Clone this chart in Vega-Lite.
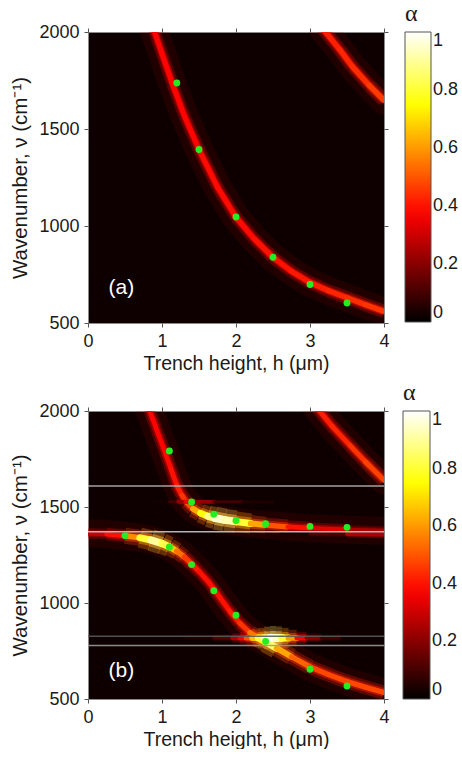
{
  "$schema": "https://vega.github.io/schema/vega-lite/v6.json",
  "padding": {"left": 10, "top": 1, "right": 0, "bottom": 0},
  "config": {
    "font": "Liberation Sans",
    "view": {"stroke": "#8a8a8a", "strokeWidth": 1, "fill": "#0e0000"},
    "axis": {"labelFontSize": 18, "titleFontSize": 19.5, "labelColor": "#1a1a1a", "titleColor": "#1a1a1a", "titleFontWeight": "normal", "domain": false, "grid": false, "tickColor": "#555555", "tickSize": 4, "labelPadding": 5, "labelFlush": false}
  },
  "datasets": {
    "curves": [
      {"p": "a", "c": "a1", "h": 0.85, "v": 2060, "a": 0.38},
      {"p": "a", "c": "a1", "h": 0.90, "v": 2000, "a": 0.38},
      {"p": "a", "c": "a1", "h": 1.00, "v": 1889, "a": 0.38},
      {"p": "a", "c": "a1", "h": 1.137, "v": 1737, "a": 0.38},
      {"p": "a", "c": "a1", "h": 1.30, "v": 1570, "a": 0.38},
      {"p": "a", "c": "a1", "h": 1.50, "v": 1394, "a": 0.39},
      {"p": "a", "c": "a1", "h": 1.75, "v": 1200, "a": 0.39},
      {"p": "a", "c": "a1", "h": 2.00, "v": 1045, "a": 0.39},
      {"p": "a", "c": "a1", "h": 2.25, "v": 932, "a": 0.40},
      {"p": "a", "c": "a1", "h": 2.50, "v": 838, "a": 0.40},
      {"p": "a", "c": "a1", "h": 2.75, "v": 766, "a": 0.41},
      {"p": "a", "c": "a1", "h": 3.00, "v": 709, "a": 0.42},
      {"p": "a", "c": "a1", "h": 3.25, "v": 666, "a": 0.43},
      {"p": "a", "c": "a1", "h": 3.50, "v": 630, "a": 0.44},
      {"p": "a", "c": "a1", "h": 3.75, "v": 594, "a": 0.45},
      {"p": "a", "c": "a1", "h": 4.00, "v": 560, "a": 0.46},
      {"p": "a", "c": "a2", "h": 3.10, "v": 2055, "a": 0.42},
      {"p": "a", "c": "a2", "h": 3.21, "v": 2000, "a": 0.42},
      {"p": "a", "c": "a2", "h": 3.40, "v": 1910, "a": 0.43},
      {"p": "a", "c": "a2", "h": 3.57, "v": 1823, "a": 0.44},
      {"p": "a", "c": "a2", "h": 3.80, "v": 1725, "a": 0.46},
      {"p": "a", "c": "a2", "h": 4.00, "v": 1648, "a": 0.48},
      {"p": "b", "c": "b1", "h": 0.80, "v": 2040, "a": 0.38},
      {"p": "b", "c": "b1", "h": 0.835, "v": 2000, "a": 0.38},
      {"p": "b", "c": "b1", "h": 0.95, "v": 1880, "a": 0.38},
      {"p": "b", "c": "b1", "h": 1.04, "v": 1786, "a": 0.39},
      {"p": "b", "c": "b1", "h": 1.12, "v": 1700, "a": 0.40},
      {"p": "b", "c": "b1", "h": 1.20, "v": 1613, "a": 0.42},
      {"p": "b", "c": "b1", "h": 1.27, "v": 1560, "a": 0.45},
      {"p": "b", "c": "b1", "h": 1.33, "v": 1525, "a": 0.50},
      {"p": "b", "c": "b1", "h": 1.42, "v": 1490, "a": 0.62},
      {"p": "b", "c": "b1", "h": 1.52, "v": 1468, "a": 0.76},
      {"p": "b", "c": "b1", "h": 1.62, "v": 1452, "a": 0.88},
      {"p": "b", "c": "b1", "h": 1.72, "v": 1442, "a": 0.95},
      {"p": "b", "c": "b1", "h": 1.85, "v": 1432, "a": 0.92},
      {"p": "b", "c": "b1", "h": 2.00, "v": 1424, "a": 0.80},
      {"p": "b", "c": "b1", "h": 2.20, "v": 1414, "a": 0.62},
      {"p": "b", "c": "b1", "h": 2.40, "v": 1406, "a": 0.50},
      {"p": "b", "c": "b1", "h": 2.70, "v": 1397, "a": 0.40},
      {"p": "b", "c": "b1", "h": 3.00, "v": 1390, "a": 0.33},
      {"p": "b", "c": "b1", "h": 3.50, "v": 1382, "a": 0.25},
      {"p": "b", "c": "b1", "h": 4.00, "v": 1376, "a": 0.22},
      {"p": "b", "c": "b2", "h": 0.00, "v": 1363, "a": 0.30},
      {"p": "b", "c": "b2", "h": 0.25, "v": 1359, "a": 0.40},
      {"p": "b", "c": "b2", "h": 0.50, "v": 1350, "a": 0.58},
      {"p": "b", "c": "b2", "h": 0.70, "v": 1340, "a": 0.80},
      {"p": "b", "c": "b2", "h": 0.85, "v": 1328, "a": 0.90},
      {"p": "b", "c": "b2", "h": 1.00, "v": 1310, "a": 0.82},
      {"p": "b", "c": "b2", "h": 1.10, "v": 1293, "a": 0.66},
      {"p": "b", "c": "b2", "h": 1.20, "v": 1270, "a": 0.54},
      {"p": "b", "c": "b2", "h": 1.30, "v": 1240, "a": 0.46},
      {"p": "b", "c": "b2", "h": 1.40, "v": 1204, "a": 0.42},
      {"p": "b", "c": "b2", "h": 1.50, "v": 1165, "a": 0.40},
      {"p": "b", "c": "b2", "h": 1.64, "v": 1105, "a": 0.40},
      {"p": "b", "c": "b2", "h": 1.78, "v": 1030, "a": 0.40},
      {"p": "b", "c": "b2", "h": 1.91, "v": 960, "a": 0.42},
      {"p": "b", "c": "b2", "h": 2.05, "v": 895, "a": 0.45},
      {"p": "b", "c": "b2", "h": 2.19, "v": 845, "a": 0.55},
      {"p": "b", "c": "b2", "h": 2.30, "v": 818, "a": 0.75},
      {"p": "b", "c": "b2", "h": 2.40, "v": 797, "a": 0.85},
      {"p": "b", "c": "b2", "h": 2.55, "v": 765, "a": 0.62},
      {"p": "b", "c": "b2", "h": 2.75, "v": 720, "a": 0.52},
      {"p": "b", "c": "b2", "h": 3.00, "v": 667, "a": 0.48},
      {"p": "b", "c": "b2", "h": 3.25, "v": 627, "a": 0.48},
      {"p": "b", "c": "b2", "h": 3.50, "v": 591, "a": 0.48},
      {"p": "b", "c": "b2", "h": 3.75, "v": 561, "a": 0.48},
      {"p": "b", "c": "b2", "h": 4.00, "v": 534, "a": 0.48},
      {"p": "b", "c": "b3", "h": 3.05, "v": 2040, "a": 0.42},
      {"p": "b", "c": "b3", "h": 3.13, "v": 2000, "a": 0.42},
      {"p": "b", "c": "b3", "h": 3.30, "v": 1920, "a": 0.43},
      {"p": "b", "c": "b3", "h": 3.54, "v": 1821, "a": 0.45},
      {"p": "b", "c": "b3", "h": 3.75, "v": 1735, "a": 0.47},
      {"p": "b", "c": "b3", "h": 4.00, "v": 1639, "a": 0.50},
      {"p": "b", "c": "b4", "h": 0.90, "v": 1527, "a": 0.03},
      {"p": "b", "c": "b4", "h": 1.10, "v": 1527, "a": 0.10},
      {"p": "b", "c": "b4", "h": 1.22, "v": 1527, "a": 0.22},
      {"p": "b", "c": "b4", "h": 1.32, "v": 1527, "a": 0.36},
      {"p": "b", "c": "b4", "h": 1.45, "v": 1527, "a": 0.22},
      {"p": "b", "c": "b4", "h": 1.70, "v": 1527, "a": 0.10},
      {"p": "b", "c": "b4", "h": 2.10, "v": 1527, "a": 0.05},
      {"p": "b", "c": "b4", "h": 2.50, "v": 1527, "a": 0.02},
      {"p": "b", "c": "b5", "h": 1.30, "v": 818, "a": 0.04},
      {"p": "b", "c": "b5", "h": 1.70, "v": 818, "a": 0.12},
      {"p": "b", "c": "b5", "h": 1.95, "v": 818, "a": 0.26},
      {"p": "b", "c": "b5", "h": 2.05, "v": 818, "a": 0.36},
      {"p": "b", "c": "b5", "h": 2.14, "v": 818, "a": 0.50},
      {"p": "b", "c": "b5", "h": 2.22, "v": 818, "a": 0.66},
      {"p": "b", "c": "b5", "h": 2.30, "v": 818, "a": 0.80},
      {"p": "b", "c": "b5", "h": 2.38, "v": 818, "a": 0.92},
      {"p": "b", "c": "b5", "h": 2.46, "v": 818, "a": 1.00},
      {"p": "b", "c": "b5", "h": 2.54, "v": 818, "a": 0.94},
      {"p": "b", "c": "b5", "h": 2.62, "v": 818, "a": 0.80},
      {"p": "b", "c": "b5", "h": 2.71, "v": 818, "a": 0.60},
      {"p": "b", "c": "b5", "h": 2.82, "v": 818, "a": 0.38},
      {"p": "b", "c": "b5", "h": 2.95, "v": 818, "a": 0.20},
      {"p": "b", "c": "b5", "h": 3.15, "v": 818, "a": 0.09},
      {"p": "b", "c": "b5", "h": 3.40, "v": 818, "a": 0.03},
      {"p": "b", "c": "b6", "h": 2.60, "v": 1362, "a": 0.04},
      {"p": "b", "c": "b6", "h": 3.00, "v": 1361, "a": 0.12},
      {"p": "b", "c": "b6", "h": 3.50, "v": 1359, "a": 0.26},
      {"p": "b", "c": "b6", "h": 4.00, "v": 1356, "a": 0.45}
    ],
    "dots": [
      {"p": "a", "h": 1.2, "v": 1737},
      {"p": "a", "h": 1.5, "v": 1394},
      {"p": "a", "h": 2.0, "v": 1046},
      {"p": "a", "h": 2.5, "v": 839},
      {"p": "a", "h": 3.0, "v": 698},
      {"p": "a", "h": 3.5, "v": 603},
      {"p": "b", "h": 1.1, "v": 1792},
      {"p": "b", "h": 1.4, "v": 1526},
      {"p": "b", "h": 1.7, "v": 1462},
      {"p": "b", "h": 2.0, "v": 1430},
      {"p": "b", "h": 2.4, "v": 1413},
      {"p": "b", "h": 3.0, "v": 1399},
      {"p": "b", "h": 3.5, "v": 1394},
      {"p": "b", "h": 0.5, "v": 1351},
      {"p": "b", "h": 1.1, "v": 1292},
      {"p": "b", "h": 1.4, "v": 1200},
      {"p": "b", "h": 1.7, "v": 1064},
      {"p": "b", "h": 2.0, "v": 936},
      {"p": "b", "h": 2.4, "v": 800},
      {"p": "b", "h": 3.0, "v": 655},
      {"p": "b", "h": 3.5, "v": 568}
    ],
    "hlines": [
      {"v": 1609, "k": "l1"},
      {"v": 1371, "k": "l2"},
      {"v": 827, "k": "l3"},
      {"v": 778, "k": "l4"}
    ]
  },
  "spacing": 7,
  "resolve": {"scale": {"color": "independent"}},
  "vconcat": [
    {
      "width": 296,
      "height": 291,
      "resolve": {"axis": {"x": "independent", "y": "independent"}, "scale": {"strokeWidth": "independent", "stroke": "independent", "size": "independent"}},
      "layer": [
        {
          "data": {"name": "curves"},
          "transform": [{"filter": "datum.c == 'a1' || datum.c == 'a2'"}],
          "mark": {"type": "line", "clip": true, "stroke": "#b00000", "strokeWidth": 28, "strokeOpacity": 0.12, "strokeCap": "round", "strokeJoin": "round"},
          "encoding": {
            "x": {"field": "h", "type": "quantitative", "scale": {"domain": [0, 4], "nice": false, "zero": false}, "axis": {"orient": "bottom", "values": [0, 1, 2, 3, 4], "format": "d", "title": "Trench height, h (μm)", "titlePadding": 4}},
            "y": {"field": "v", "type": "quantitative", "scale": {"domain": [500, 2000], "nice": false, "zero": false}, "axis": {"orient": "left", "values": [500, 1000, 1500, 2000], "format": "d", "title": "Wavenumber, ν (cm⁻¹)", "titleFontSize": 20.5, "titlePadding": 8}},
            "detail": {"field": "c"},
            "order": {"field": "h"}
          }
        },
        {
          "data": {"name": "curves"},
          "transform": [
            {"filter": "datum.p == 'a'"},
            {"window": [{"op": "lead", "field": "h", "as": "h2"}, {"op": "lead", "field": "v", "as": "v2"}], "groupby": ["c"], "sort": [{"field": "h", "order": "ascending"}]},
            {"filter": "datum.h2 != null"}
          ],
          "mark": {"type": "rule", "clip": true, "strokeCap": "butt", "strokeOpacity": 0.3},
          "encoding": {
            "x": {"field": "h", "type": "quantitative", "axis": null},
            "x2": {"field": "h2"},
            "y": {"field": "v", "type": "quantitative", "axis": null},
            "y2": {"field": "v2"},
            "strokeWidth": {"field": "a", "type": "quantitative", "scale": {"domain": [0, 1], "range": [5, 24]}, "legend": null},
            "stroke": {"field": "a", "type": "quantitative", "scale": {"type": "linear", "domain": [0, 0.4, 0.8, 1], "range": ["#000000", "#ee0000", "#ff9000", "#ffe060"], "interpolate": "rgb"}, "legend": null}
          }
        },
        {
          "data": {"name": "curves"},
          "transform": [
            {"filter": "datum.p == 'a'"},
            {"window": [{"op": "lead", "field": "h", "as": "h2"}, {"op": "lead", "field": "v", "as": "v2"}], "groupby": ["c"], "sort": [{"field": "h", "order": "ascending"}]},
            {"filter": "datum.h2 != null"}
          ],
          "mark": {"type": "rule", "clip": true, "strokeCap": "butt", "strokeOpacity": 0.5},
          "encoding": {
            "x": {"field": "h", "type": "quantitative", "axis": null},
            "x2": {"field": "h2"},
            "y": {"field": "v", "type": "quantitative", "axis": null},
            "y2": {"field": "v2"},
            "strokeWidth": {"field": "a", "type": "quantitative", "scale": {"domain": [0, 1], "range": [4, 14]}, "legend": null},
            "stroke": {"field": "a", "type": "quantitative", "scale": {"type": "linear", "domain": [0, 0.4, 0.8, 1], "range": ["#000000", "#ee0000", "#ff9000", "#ffe060"], "interpolate": "rgb"}, "legend": null}
          }
        },
        {
          "data": {"name": "curves"},
          "transform": [
            {"filter": "datum.p == 'a'"},
            {"window": [{"op": "lead", "field": "h", "as": "h2"}, {"op": "lead", "field": "v", "as": "v2"}], "groupby": ["c"], "sort": [{"field": "h", "order": "ascending"}]},
            {"filter": "datum.h2 != null"}
          ],
          "mark": {"type": "rule", "clip": true, "strokeCap": "round"},
          "encoding": {
            "x": {"field": "h", "type": "quantitative", "axis": null},
            "x2": {"field": "h2"},
            "y": {"field": "v", "type": "quantitative", "axis": null},
            "y2": {"field": "v2"},
            "size": {"field": "a", "type": "quantitative", "scale": {"domain": [0, 1], "range": [3.5, 8]}, "legend": null},
            "color": {"field": "a", "type": "quantitative", "scale": {"type": "linear", "domain": [0, 0.375, 0.75, 1], "range": ["#000000", "#ff0000", "#ffff00", "#ffffff"], "interpolate": "rgb"},
              "legend": {"orient": "none", "legendX": 317, "legendY": -30, "direction": "vertical", "title": "α", "titleFont": "Liberation Serif", "titleFontSize": 24, "titleFontWeight": "normal", "titleColor": "#1a1a1a", "titlePadding": 6, "gradientLength": 290, "gradientThickness": 26, "gradientStrokeColor": "#555555", "gradientStrokeWidth": 1, "labelFontSize": 18, "labelColor": "#1a1a1a", "labelOffset": 2, "values": [0, 0.2, 0.4, 0.6, 0.8, 1], "format": ".1~f", "labelBaseline": "middle", "encode": {"gradient": {"update": {"opacity": {"value": 1}}}}}}
          }
        },
        {
          "data": {"name": "dots"},
          "transform": [{"filter": "datum.p == 'a'"}],
          "mark": {"type": "circle", "size": 48, "color": "#22ee22", "opacity": 1},
          "encoding": {
            "x": {"field": "h", "type": "quantitative", "axis": {"orient": "top", "values": [0, 1, 2, 3, 4], "labels": false, "title": null}},
            "y": {"field": "v", "type": "quantitative", "axis": {"orient": "right", "values": [500, 1000, 1500, 2000], "labels": false, "title": null}}
          }
        },
        {
          "data": {"values": [{"h": 0.45, "v": 680, "t": "(a)"}]},
          "mark": {"type": "text", "color": "#ffffff", "fontSize": 21, "font": "Liberation Sans"},
          "encoding": {
            "x": {"field": "h", "type": "quantitative", "axis": null},
            "y": {"field": "v", "type": "quantitative", "axis": null},
            "text": {"field": "t"}
          }
        }
      ]
    },
    {
      "width": 296,
      "height": 288,
      "resolve": {"axis": {"x": "independent", "y": "independent"}, "scale": {"strokeWidth": "independent", "stroke": "independent", "size": "independent"}},
      "layer": [
        {
          "data": {"name": "curves"},
          "transform": [{"filter": "datum.c == 'b1' || datum.c == 'b2' || datum.c == 'b3'"}],
          "mark": {"type": "line", "clip": true, "stroke": "#b00000", "strokeWidth": 28, "strokeOpacity": 0.12, "strokeCap": "round", "strokeJoin": "round"},
          "encoding": {
            "x": {"field": "h", "type": "quantitative", "scale": {"domain": [0, 4], "nice": false, "zero": false}, "axis": {"orient": "bottom", "values": [0, 1, 2, 3, 4], "format": "d", "title": "Trench height, h (μm)", "titlePadding": 4}},
            "y": {"field": "v", "type": "quantitative", "scale": {"domain": [500, 2000], "nice": false, "zero": false}, "axis": {"orient": "left", "values": [500, 1000, 1500, 2000], "format": "d", "title": "Wavenumber, ν (cm⁻¹)", "titleFontSize": 20.5, "titlePadding": 8}},
            "detail": {"field": "c"},
            "order": {"field": "h"}
          }
        },
        {
          "data": {"name": "curves"},
          "transform": [
            {"filter": "datum.p == 'b' && datum.c != 'b4' && datum.c != 'b6'"},
            {"window": [{"op": "lead", "field": "h", "as": "h2"}, {"op": "lead", "field": "v", "as": "v2"}], "groupby": ["c"], "sort": [{"field": "h", "order": "ascending"}]},
            {"filter": "datum.h2 != null"}
          ],
          "mark": {"type": "rule", "clip": true, "strokeCap": "butt", "strokeOpacity": 0.3},
          "encoding": {
            "x": {"field": "h", "type": "quantitative", "axis": null},
            "x2": {"field": "h2"},
            "y": {"field": "v", "type": "quantitative", "axis": null},
            "y2": {"field": "v2"},
            "strokeWidth": {"field": "a", "type": "quantitative", "scale": {"domain": [0, 1], "range": [5, 24]}, "legend": null},
            "stroke": {"field": "a", "type": "quantitative", "scale": {"type": "linear", "domain": [0, 0.4, 0.8, 1], "range": ["#000000", "#ee0000", "#ff9000", "#ffe060"], "interpolate": "rgb"}, "legend": null}
          }
        },
        {
          "data": {"name": "curves"},
          "transform": [
            {"filter": "datum.p == 'b' && datum.c != 'b4'"},
            {"window": [{"op": "lead", "field": "h", "as": "h2"}, {"op": "lead", "field": "v", "as": "v2"}], "groupby": ["c"], "sort": [{"field": "h", "order": "ascending"}]},
            {"filter": "datum.h2 != null"}
          ],
          "mark": {"type": "rule", "clip": true, "strokeCap": "butt", "strokeOpacity": 0.5},
          "encoding": {
            "x": {"field": "h", "type": "quantitative", "axis": null},
            "x2": {"field": "h2"},
            "y": {"field": "v", "type": "quantitative", "axis": null},
            "y2": {"field": "v2"},
            "strokeWidth": {"field": "a", "type": "quantitative", "scale": {"domain": [0, 1], "range": [4, 14]}, "legend": null},
            "stroke": {"field": "a", "type": "quantitative", "scale": {"type": "linear", "domain": [0, 0.4, 0.8, 1], "range": ["#000000", "#ee0000", "#ff9000", "#ffe060"], "interpolate": "rgb"}, "legend": null}
          }
        },
        {
          "data": {"name": "curves"},
          "transform": [
            {"filter": "datum.p == 'b'"},
            {"window": [{"op": "lead", "field": "h", "as": "h2"}, {"op": "lead", "field": "v", "as": "v2"}], "groupby": ["c"], "sort": [{"field": "h", "order": "ascending"}]},
            {"filter": "datum.h2 != null"}
          ],
          "mark": {"type": "rule", "clip": true, "strokeCap": "round"},
          "encoding": {
            "x": {"field": "h", "type": "quantitative", "axis": null},
            "x2": {"field": "h2"},
            "y": {"field": "v", "type": "quantitative", "axis": null},
            "y2": {"field": "v2"},
            "size": {"field": "a", "type": "quantitative", "scale": {"domain": [0, 1], "range": [2.5, 8]}, "legend": null},
            "color": {"field": "a", "type": "quantitative", "scale": {"type": "linear", "domain": [0, 0.375, 0.75, 1], "range": ["#000000", "#ff0000", "#ffff00", "#ffffff"], "interpolate": "rgb"},
              "legend": {"orient": "none", "legendX": 315, "legendY": -30, "direction": "vertical", "title": "α", "titleFont": "Liberation Serif", "titleFontSize": 24, "titleFontWeight": "normal", "titleColor": "#1a1a1a", "titlePadding": 6, "gradientLength": 288, "gradientThickness": 27, "gradientStrokeColor": "#555555", "gradientStrokeWidth": 1, "labelFontSize": 18, "labelColor": "#1a1a1a", "labelOffset": 2, "values": [0, 0.2, 0.4, 0.6, 0.8, 1], "format": ".1~f", "labelBaseline": "middle", "encode": {"gradient": {"update": {"opacity": {"value": 1}}}}}}
          }
        },
        {
          "data": {"name": "hlines"},
          "mark": {"type": "rule", "strokeWidth": 1.5, "opacity": 0.9},
          "encoding": {
            "y": {"field": "v", "type": "quantitative", "axis": null},
            "stroke": {"field": "k", "type": "nominal", "scale": {"domain": ["l1", "l2", "l3", "l4"], "range": ["#b4b4b4", "#c8c8c8", "#5a5a5a", "#9a9a9a"]}, "legend": null}
          }
        },
        {
          "data": {"name": "dots"},
          "transform": [{"filter": "datum.p == 'b'"}],
          "mark": {"type": "circle", "size": 48, "color": "#22ee22", "opacity": 1},
          "encoding": {
            "x": {"field": "h", "type": "quantitative", "axis": {"orient": "top", "values": [0, 1, 2, 3, 4], "labels": false, "title": null}},
            "y": {"field": "v", "type": "quantitative", "axis": {"orient": "right", "values": [500, 1000, 1500, 2000], "labels": false, "title": null}}
          }
        },
        {
          "data": {"values": [{"h": 0.45, "v": 646, "t": "(b)"}]},
          "mark": {"type": "text", "color": "#ffffff", "fontSize": 21, "font": "Liberation Sans"},
          "encoding": {
            "x": {"field": "h", "type": "quantitative", "axis": null},
            "y": {"field": "v", "type": "quantitative", "axis": null},
            "text": {"field": "t"}
          }
        }
      ]
    }
  ]
}
